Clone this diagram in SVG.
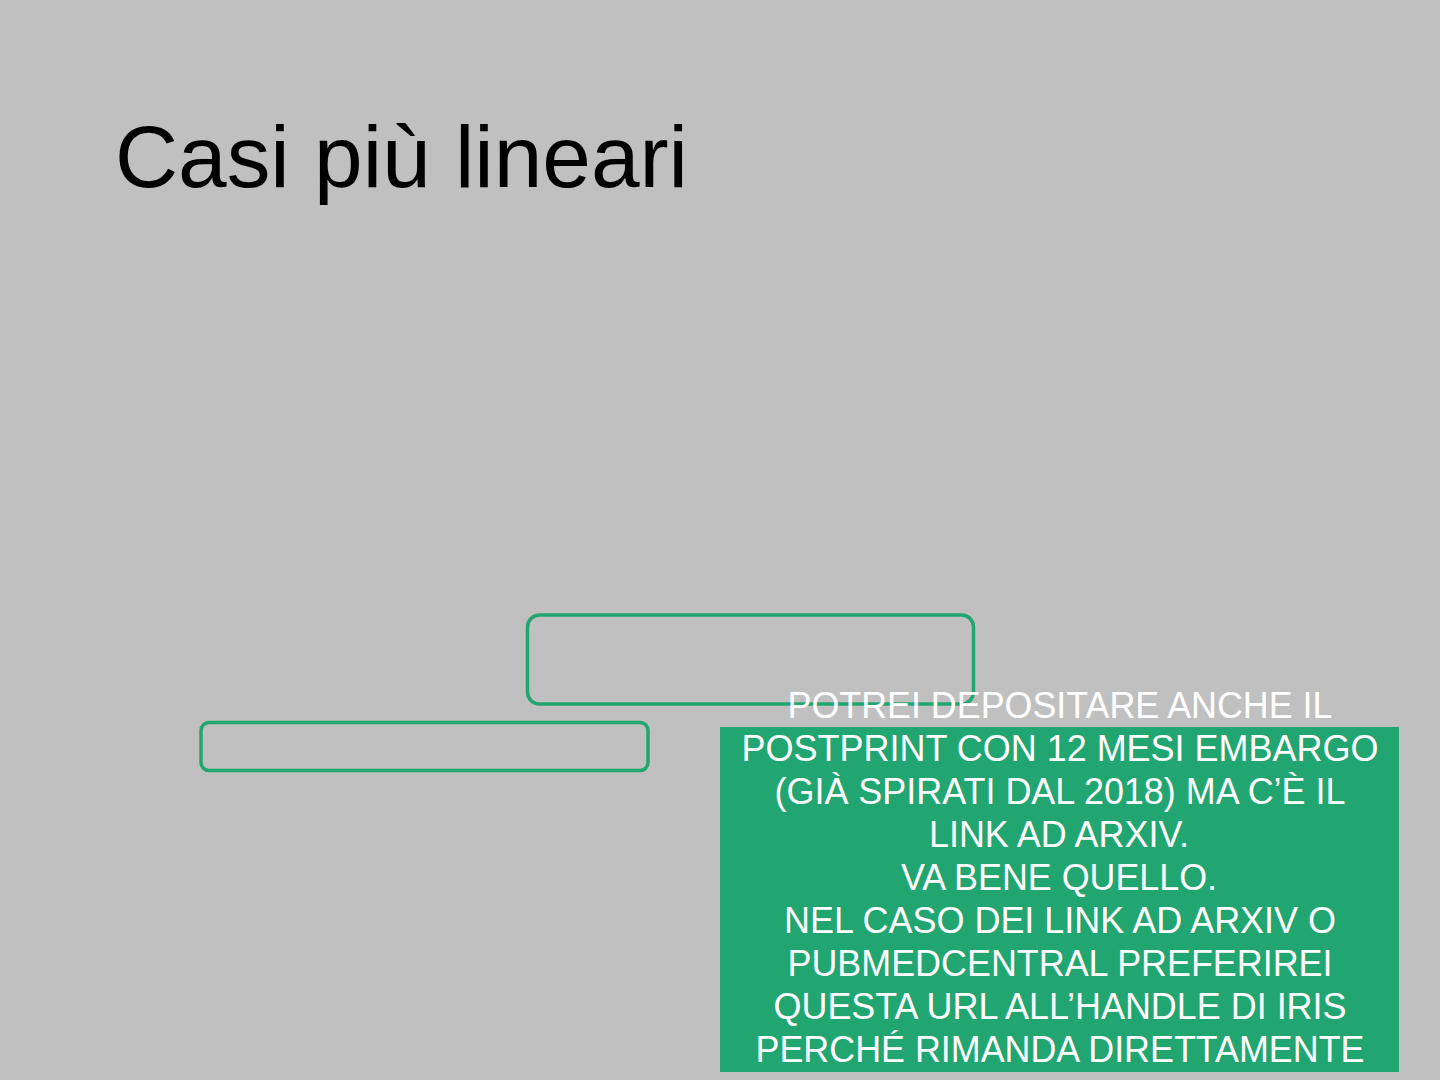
<svg xmlns="http://www.w3.org/2000/svg" width="1440" height="1080" viewBox="0 0 1440 1080">
<style>
.bg{fill:#c0c0c0}
.frame{fill:none;stroke:#22a671;stroke-width:3.5}
.t{font-family:"Liberation Sans",Arial,sans-serif;font-size:37px;fill:#ffffff;text-anchor:middle}
.title{font-family:"Liberation Sans",Arial,sans-serif;font-size:88px;fill:#000000}
</style>
<rect class="bg" x="0" y="0" width="1440" height="1080"/>
<g id="title"><text class="title" x="115" y="187" textLength="573" lengthAdjust="spacingAndGlyphs">Casi più lineari</text></g>
<g id="box1"><rect class="frame" x="527.5" y="615" width="446" height="89" rx="12"/></g>
<g id="box2"><rect class="frame" x="201" y="722.5" width="447" height="48" rx="8"/></g>
<g id="note">
<rect x="720" y="727" width="679" height="345" fill="#22a671"/>
<text class="t" x="1060" y="718" textLength="545" lengthAdjust="spacingAndGlyphs">POTREI DEPOSITARE ANCHE IL</text>
<text class="t" x="1060" y="761" textLength="637" lengthAdjust="spacingAndGlyphs">POSTPRINT CON 12 MESI EMBARGO</text>
<text class="t" x="1060" y="804" textLength="571" lengthAdjust="spacingAndGlyphs">(GIÀ SPIRATI DAL 2018) MA C’È IL</text>
<text class="t" x="1059" y="847" textLength="260" lengthAdjust="spacingAndGlyphs">LINK AD ARXIV.</text>
<text class="t" x="1059" y="890" textLength="316" lengthAdjust="spacingAndGlyphs">VA BENE QUELLO.</text>
<text class="t" x="1060" y="933" textLength="552" lengthAdjust="spacingAndGlyphs">NEL CASO DEI LINK AD ARXIV O</text>
<text class="t" x="1060" y="976" textLength="545" lengthAdjust="spacingAndGlyphs">PUBMEDCENTRAL PREFERIREI</text>
<text class="t" x="1060" y="1019" textLength="573" lengthAdjust="spacingAndGlyphs">QUESTA URL ALL’HANDLE DI IRIS</text>
<text class="t" x="1060" y="1062" textLength="609" lengthAdjust="spacingAndGlyphs">PERCHÉ RIMANDA DIRETTAMENTE</text>
</g>
</svg>
